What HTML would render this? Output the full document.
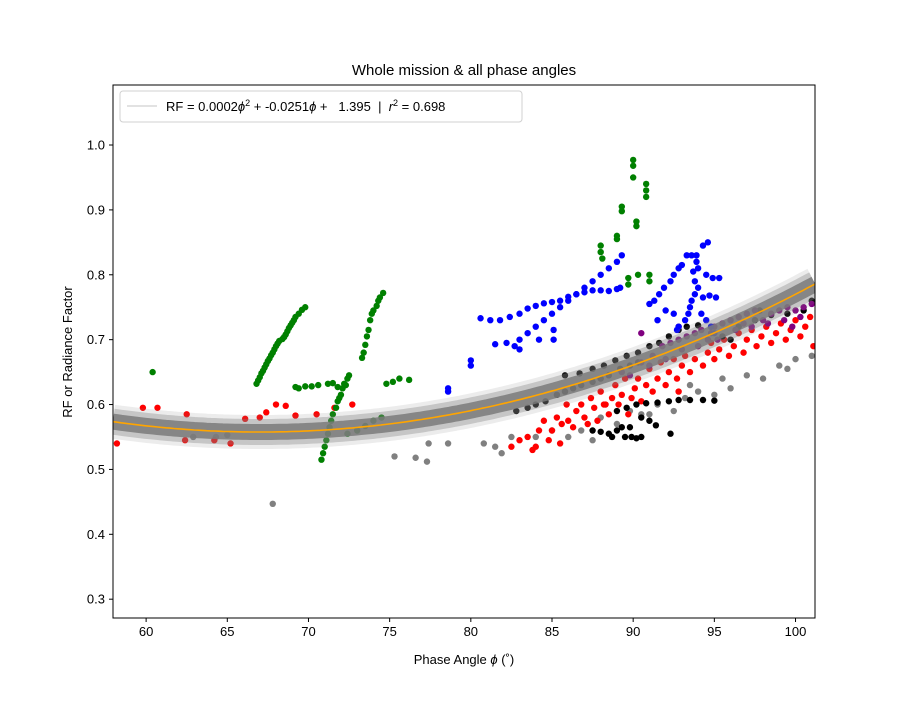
<!DOCTYPE html>
<html><head><meta charset="utf-8"><style>
body{margin:0;background:#fff;}
svg text{font-family:"Liberation Sans","DejaVu Sans",sans-serif;}
</style></head><body>
<svg id="chart" width="906" height="696" xmlns="http://www.w3.org/2000/svg">
<rect width="906" height="696" fill="#fff"/>
<g id="marks"></g>
<g id="axes"></g>
</svg>
<script>
const xTicks=[60,65,70,75,80,85,90,95,100];
const yTicks=[0.3,0.4,0.5,0.6,0.7,0.8,0.9,1.0];
const fitCoeffs=[0.000195,-0.026130,1.433];
const grayPts=[62.9,.55,64.3,.55,65.0,.553,67.8,.447,75.3,.52,76.6,.518,77.3,.512,77.4,.54,78.6,.54,80.8,.54,81.5,.535,81.9,.525,82.5,.55,84.0,.55,85.0,.56,86.0,.55,86.8,.56,87.5,.545,88.0,.58,89.0,.57,89.8,.59,90.5,.585,91.5,.6,92.5,.59,93.2,.61,94.0,.62,95.0,.615,96.0,.625,97.0,.645,98.0,.64,99.0,.66,99.5,.655,100.0,.67,101.0,.675,93.5,.63,91.0,.585,95.5,.64];
const redPts=[58.2,.54,59.8,.595,60.7,.595,62.4,.545,62.5,.585,64.2,.545,65.2,.54,66.1,.578,67.0,.58,67.4,.588,68.0,.6,68.6,.598,69.2,.583,70.5,.585,71.6,.595,72.7,.6,82.5,.535,83.0,.545,83.5,.55,83.8,.53,84.2,.56,84.5,.575,84.8,.545,85.0,.56,85.3,.58,85.6,.57,85.9,.6,86.0,.575,86.3,.565,86.5,.59,86.8,.6,87.0,.58,87.2,.57,87.4,.61,87.6,.595,87.8,.575,88.0,.62,88.2,.6,88.5,.585,88.7,.61,88.9,.63,89.1,.6,89.3,.615,89.5,.64,89.7,.585,89.9,.61,90.1,.625,90.3,.64,90.5,.605,90.8,.63,91.0,.655,91.2,.62,91.5,.64,91.7,.665,92.0,.63,92.2,.65,92.5,.67,92.7,.64,93.0,.66,93.2,.675,93.5,.65,93.8,.67,94.0,.69,94.3,.66,94.6,.68,94.8,.695,95.0,.67,95.3,.685,95.6,.7,95.9,.675,96.2,.69,96.5,.71,96.8,.68,97.0,.7,97.3,.715,97.6,.69,97.9,.705,98.2,.72,98.5,.695,98.8,.71,99.1,.725,99.4,.7,99.7,.715,100.0,.73,100.3,.705,100.6,.72,100.9,.735,101.1,.69,84.0,.535,85.5,.54,88.3,.6,92.8,.62];
const blackPts=[82.8,.59,83.5,.595,84.0,.6,84.6,.605,85.3,.615,85.8,.62,86.3,.625,86.8,.63,87.5,.635,88.0,.64,88.5,.645,89.2,.655,89.8,.66,90.3,.665,85.8,.645,86.7,.648,87.5,.655,88.2,.66,88.9,.668,89.6,.675,90.3,.68,91.0,.69,91.6,.695,92.2,.705,92.8,.715,93.3,.72,94.0,.722,87.5,.56,88.0,.558,88.5,.555,89.0,.56,89.5,.55,89.9,.55,90.2,.548,89.3,.565,89.8,.565,88.7,.55,90.5,.55,89.0,.59,89.6,.595,90.2,.6,90.8,.602,91.5,.603,92.2,.605,92.8,.607,93.5,.607,94.3,.607,95.0,.606,90.5,.58,91.0,.575,91.4,.568,92.3,.555,95.5,.705,96.5,.72,97.5,.73,98.5,.738,99.5,.74,100.5,.745,101.0,.76,96.0,.7,97.8,.745,94.8,.72];
const purplePts=[90.5,.665,91.2,.675,91.8,.69,92.3,.695,92.8,.7,93.3,.705,93.8,.71,94.2,.715,94.6,.7,95.0,.72,95.5,.725,96.0,.73,96.5,.735,97.0,.74,97.5,.745,98.0,.73,98.5,.74,99.0,.745,99.5,.75,100.0,.745,100.5,.75,101.0,.755,93.0,.685,94.0,.69,95.2,.7,96.3,.715,97.3,.72,98.3,.725,99.3,.73,100.3,.735,92.0,.67,91.0,.66,89.8,.645,89.3,.65,94.8,.71,96.8,.725,99.8,.72,90.5,.71,92.8,.72];
const greenPts=[66.8,.632,66.9,.637,67.0,.642,67.1,.648,67.2,.652,67.3,.657,67.4,.662,67.5,.667,67.6,.671,67.7,.676,67.8,.68,67.9,.685,68.0,.69,68.1,.694,68.2,.698,68.4,.701,68.5,.704,68.6,.708,68.7,.713,68.8,.718,68.9,.722,69.0,.726,69.1,.73,69.2,.735,69.4,.74,69.6,.746,69.8,.75,70.8,.515,70.9,.525,71.0,.535,71.1,.545,71.2,.555,71.3,.565,71.4,.575,71.5,.585,71.7,.595,71.8,.605,71.9,.61,72.0,.615,72.1,.625,72.2,.632,72.4,.64,72.5,.645,73.3,.672,73.4,.68,73.5,.692,73.6,.705,73.7,.715,73.8,.73,73.9,.74,74.0,.745,74.2,.752,74.3,.76,74.4,.765,74.6,.772,69.2,.627,69.4,.625,69.8,.628,70.2,.628,70.6,.63,71.2,.632,71.5,.633,71.8,.627,72.3,.63,74.8,.632,75.2,.635,75.6,.64,76.2,.638,72.4,.555,73.0,.56,73.5,.567,74.0,.575,74.5,.58,60.4,.65,88.0,.845,88.0,.835,88.1,.825,89.0,.86,89.0,.855,89.3,.905,89.3,.898,89.7,.795,89.7,.785,90.0,.977,90.0,.968,90.0,.95,90.2,.882,90.2,.875,90.8,.94,90.8,.93,90.8,.92,91.0,.80,91.0,.79,90.3,.8];
const bluePts=[80.6,.733,81.2,.73,81.8,.73,82.4,.735,83.0,.74,83.5,.748,84.0,.752,84.5,.756,85.0,.758,85.5,.76,86.0,.766,86.5,.77,87.0,.773,87.5,.776,88.0,.776,88.5,.775,89.0,.778,89.2,.78,80.0,.668,80.0,.66,81.5,.693,82.2,.695,83.0,.7,83.5,.71,84.0,.72,84.5,.73,85.0,.74,85.5,.75,86.0,.76,86.5,.77,87.0,.78,87.5,.79,88.0,.8,88.5,.81,89.0,.82,89.3,.83,82.7,.69,83.0,.685,84.2,.7,85.1,.7,85.1,.715,78.6,.625,78.6,.62,91.0,.755,91.3,.76,91.6,.77,91.9,.78,92.3,.79,92.5,.8,92.8,.81,93.0,.815,93.3,.83,93.6,.83,94.3,.845,94.6,.85,93.9,.82,93.7,.805,93.8,.79,94.0,.78,93.8,.77,93.6,.76,93.5,.75,93.4,.74,93.2,.73,92.8,.72,92.7,.715,94.3,.765,94.7,.768,95.1,.765,94.5,.8,94.9,.795,95.3,.795,94.2,.74,94.5,.73,94.8,.72,95.0,.71,92.5,.74,92.0,.745,91.5,.73,93.9,.83,94.0,.81];

const L=113,R=815,T=85,B=618,X0=57.96,X1=101.2,Y0=0.271,Y1=1.0925;
const sx=v=>L+(v-X0)/(X1-X0)*(R-L);
const sy=v=>B-(v-Y0)/(Y1-Y0)*(B-T);
const NS='http://www.w3.org/2000/svg';
const marks=document.getElementById('marks'),axes=document.getElementById('axes');
function mk(tag,parent,attrs){const e=document.createElementNS(NS,tag);for(const k in attrs)e.setAttribute(k,attrs[k]);parent.appendChild(e);return e;}
const clip=mk('clipPath',marks,{id:'pc'});mk('rect',clip,{x:L,y:T,width:R-L,height:B-T});
const pg=mk('g',marks,{'clip-path':'url(#pc)'});


function scatter(arr,color,name){const g=mk('g',pg,{fill:color});


for(let i=0;i<arr.length;i+=2){const c=mk('circle',g,{cx:sx(arr[i]),cy:sy(arr[i+1]),r:3.2});

}}
scatter(grayPts,'#808080','gray-series');
scatter(redPts,'#ff0000','red-series');
scatter(blackPts,'#000000','black-series');
scatter(purplePts,'#800080','purple-series');
scatter(greenPts,'#008000','green-series');
scatter(bluePts,'#0000ff','blue-series');
const f=p=>fitCoeffs[0]*p*p+fitCoeffs[1]*p+fitCoeffs[2];
let d='';for(let p=X0;p<=X1+0.01;p+=0.25){d+=(d?'L':'M')+sx(p).toFixed(1)+','+sy(f(p)).toFixed(1);}
const band1=mk('path',pg,{d:d,fill:'none',stroke:'#808080','stroke-opacity':0.15,'stroke-width':34});


const band2=mk('path',pg,{d:d,fill:'none',stroke:'#808080','stroke-opacity':0.35,'stroke-width':26});


const band3=mk('path',pg,{d:d,fill:'none',stroke:'#7a7a7a','stroke-opacity':0.85,'stroke-width':16});


const fit=mk('path',pg,{d:d,fill:'none',stroke:'#ffa500','stroke-width':1.6});


const frame=mk('rect',axes,{x:L,y:T,width:R-L,height:B-T,fill:'none',stroke:'#000','stroke-width':1});


xTicks.forEach(v=>{const x=sx(v);mk('line',axes,{x1:x,x2:x,y1:B,y2:B+4,stroke:'#000'});
const t=mk('text',axes,{x:x,y:B+18,'text-anchor':'middle','font-size':13});t.textContent=v;

});
yTicks.forEach(v=>{const y=sy(v);mk('line',axes,{x1:L-4,x2:L,y1:y,y2:y,stroke:'#000'});
const t=mk('text',axes,{x:L-8,y:y+4.5,'text-anchor':'end','font-size':13});t.textContent=v.toFixed(1);

});
</script>
<svg style="position:absolute;left:0;top:0" width="906" height="696" xmlns="http://www.w3.org/2000/svg">
<text x="464" y="75" text-anchor="middle" font-size="15">Whole mission &amp; all phase angles</text>
<text x="464" y="664" text-anchor="middle" font-size="13">Phase Angle <tspan font-style="italic">ϕ</tspan> (˚)</text>
<text x="72" y="352" text-anchor="middle" font-size="13" transform="rotate(-90 72 352)">RF or Radiance Factor</text>
<g>
<rect x="120" y="91" width="402" height="31" rx="3" fill="#fff" fill-opacity="0.85" stroke="#d0d0d0"/>
<line x1="127" y1="106" x2="157" y2="106" stroke="#d8d8d8" stroke-width="1.5"/>
<text x="166" y="111" font-size="13" xml:space="preserve">RF = 0.0002<tspan font-style="italic">ϕ</tspan><tspan dy="-5" font-size="9">2</tspan><tspan dy="5"> + -0.0251</tspan><tspan font-style="italic">ϕ</tspan> +   1.395  |  <tspan font-style="italic">r</tspan><tspan dy="-5" font-size="9">2</tspan><tspan dy="5"> = 0.698</tspan></text>
</g>
</svg>
</body></html>
